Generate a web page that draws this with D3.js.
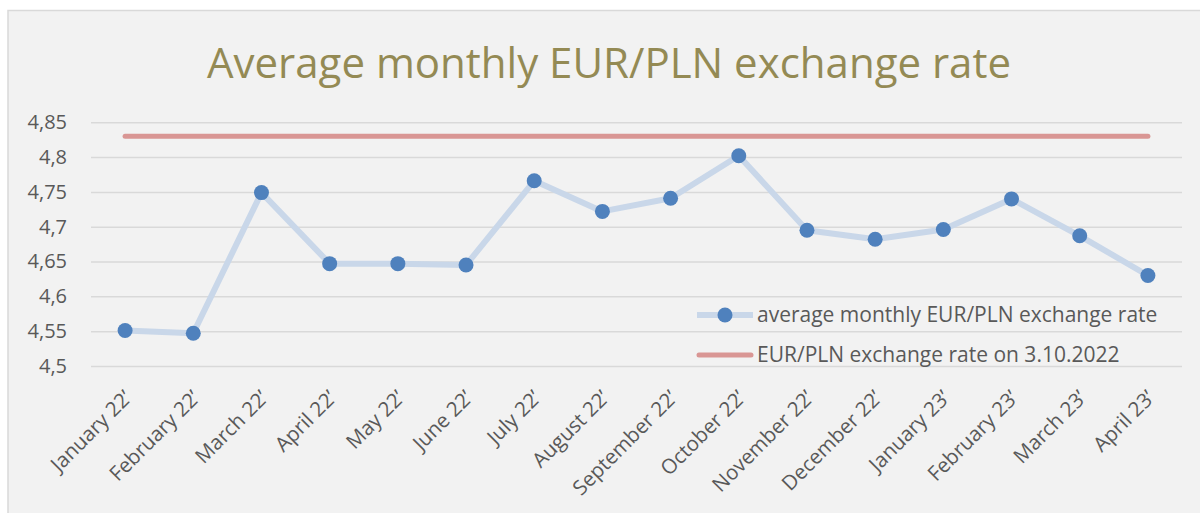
<!DOCTYPE html>
<meta charset="utf-8">
<style>
    body { margin: 0; background: #fff; }
    svg { display: block; font-family: "Open Sans", sans-serif; }
    .axis text { fill: #595959; font-family: "Open Sans", sans-serif; }
    .axis path, .axis line { display: none; }
    .grid line { stroke: #d9d9d9; stroke-width: 1.5; }
    .grid path { display: none; }
</style>
<body>
<div id="main"></div>
<script src="https://cdn.jsdelivr.net/npm/d3@7"></script>
<script>
    var months = ["January 22’", "February 22’", "March 22’", "April 22’", "May 22’", "June 22’",
        "July 22’", "August 22’", "September 22’", "October 22’", "November 22’", "December 22’",
        "January 23’", "February 23’", "March 23’", "April 23’"];
    var rates = [4.551, 4.547, 4.749, 4.647, 4.647, 4.645, 4.766, 4.722, 4.741, 4.802,
        4.695, 4.682, 4.696, 4.740, 4.687, 4.630];
    var refRate = 4.830;
    var yTicks = [4.5, 4.55, 4.6, 4.65, 4.7, 4.75, 4.8, 4.85];
    var seriesNames = ["average monthly EUR/PLN exchange rate", "EUR/PLN exchange rate on 3.10.2022"];
    var title = "Average monthly EUR/PLN exchange rate";

    var width = 1200, height = 513;
    var plot = {left: 91, right: 1182, top: 122.3, bottom: 366};

    var svg = d3.select("#main").append("svg")
            .attr("width", width)
            .attr("height", height);

    // chart frame
    svg.append("rect")
            .attr("x", 8).attr("y", 10.5)
            .attr("width", 1200).attr("height", 520)
            .attr("fill", "#f2f2f2")
            .attr("stroke", "#d9d9d9")
            .attr("stroke-width", 1.5);

    svg.append("text")
            .attr("x", 609).attr("y", 78)
            .attr("text-anchor", "middle")
            .attr("fill", "#948a54")
            .style("font-size", "42px")
            .text(title);

    var x = d3.scaleBand()
            .domain(months)
            .range([plot.left, plot.right]);

    var y = d3.scaleLinear()
            .domain([4.5, 4.85])
            .range([plot.bottom, plot.top]);

    var cx = function(d) { return x(d) + x.bandwidth() / 2; };

    svg.append("g")
            .attr("class", "grid")
            .attr("transform", "translate(" + plot.left + ",0)")
            .call(d3.axisLeft(y).tickValues(yTicks).tickSize(-(plot.right - plot.left)).tickFormat(""));

    svg.append("g")
            .attr("class", "axis y")
            .attr("transform", "translate(" + (plot.left - 21) + ",0)")
            .call(d3.axisLeft(y).tickValues(yTicks).tickSize(0)
                .tickFormat(function(d) { return String(d).replace(".", ","); }))
            .selectAll("text")
            .style("font-size", "20px");

    var xAxis = svg.append("g")
            .attr("class", "axis x")
            .attr("transform", "translate(0," + plot.bottom + ")")
            .call(d3.axisBottom(x).tickSize(0));
    xAxis.selectAll("text")
            .style("font-size", "20.5px")
            .attr("text-anchor", "end")
            .attr("dy", null)
            .attr("y", 0)
            .attr("transform", "translate(8,33) rotate(-45)");

    // reference line
    svg.append("line")
            .attr("x1", cx(months[0]))
            .attr("x2", cx(months[months.length - 1]))
            .attr("y1", y(refRate))
            .attr("y2", y(refRate))
            .attr("stroke", "#d99694")
            .attr("stroke-width", 5)
            .attr("stroke-linecap", "round");

    var line = d3.line()
            .x(function(d, i) { return cx(months[i]); })
            .y(function(d) { return y(d); });

    svg.append("path")
            .datum(rates)
            .attr("d", line)
            .attr("fill", "none")
            .attr("stroke", "#c9d7e9")
            .attr("stroke-width", 6)
            .attr("stroke-linejoin", "round");

    svg.selectAll("circle.pt")
            .data(rates)
            .enter().append("circle")
            .attr("class", "pt")
            .attr("cx", function(d, i) { return cx(months[i]); })
            .attr("cy", function(d) { return y(d); })
            .attr("r", 7.5)
            .attr("fill", "#4f81bd");

    // legend
    var legend = svg.append("g").attr("transform", "translate(697,315)");
    legend.append("line")
            .attr("x1", 0).attr("x2", 56).attr("y1", 0).attr("y2", 0)
            .attr("stroke", "#c9d7e9").attr("stroke-width", 6);
    legend.append("circle")
            .attr("cx", 28).attr("cy", 0).attr("r", 7.5)
            .attr("fill", "#4f81bd");
    legend.append("line")
            .attr("x1", 2).attr("x2", 54).attr("y1", 40).attr("y2", 40)
            .attr("stroke", "#d99694").attr("stroke-width", 5)
            .attr("stroke-linecap", "round");
    legend.selectAll("text")
            .data(seriesNames)
            .enter().append("text")
            .attr("x", 60)
            .attr("y", function(d, i) { return i * 40 + 7; })
            .attr("fill", "#595959")
            .style("font-size", "21px")
            .text(function(d) { return d; });
</script>
